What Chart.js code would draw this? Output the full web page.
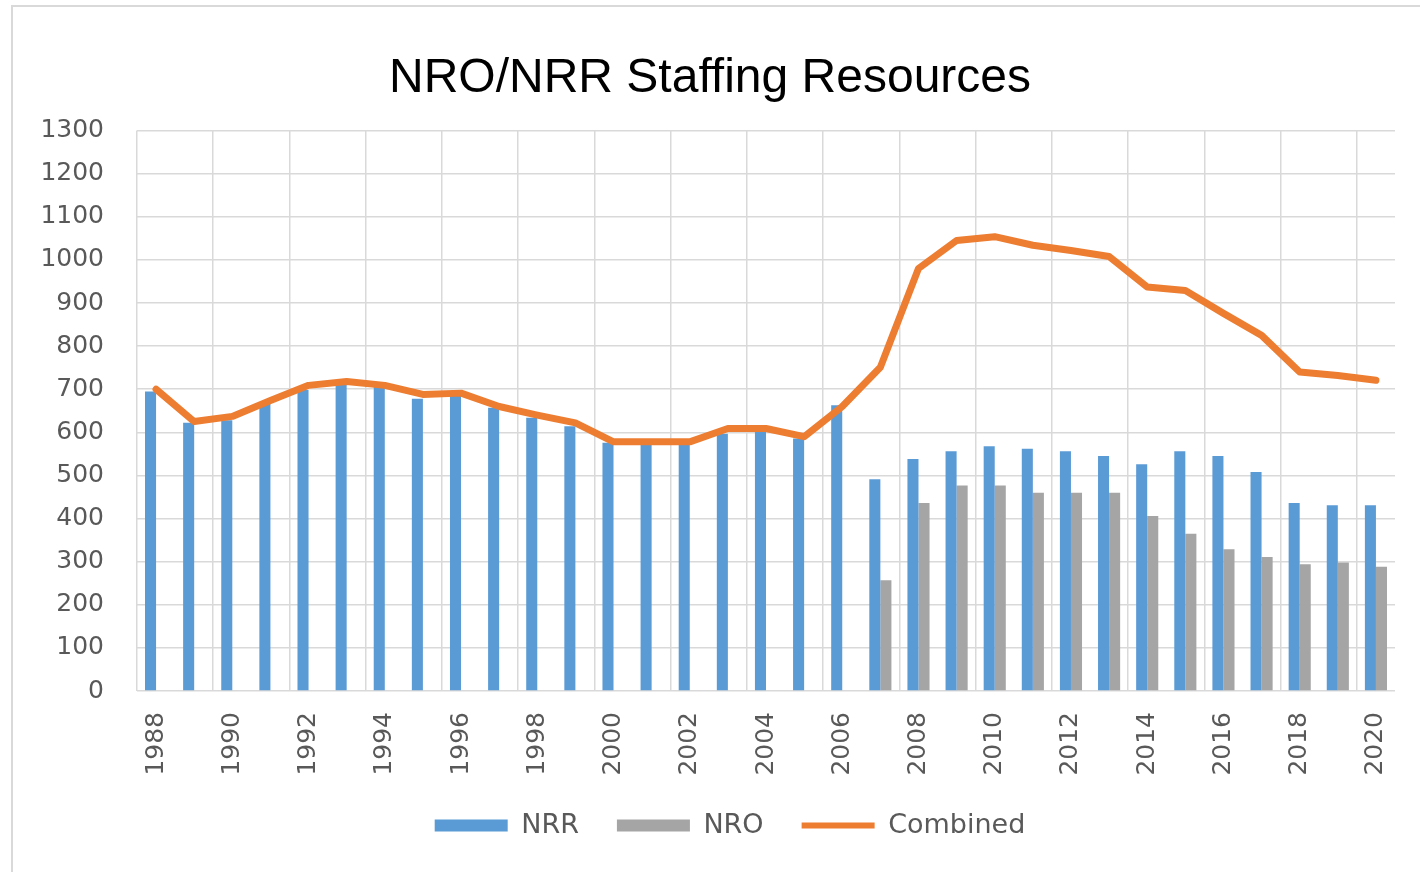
<!DOCTYPE html>
<html>
<head>
<meta charset="utf-8">
<title>NRO/NRR Staffing Resources</title>
<script src="https://cdn.jsdelivr.net/npm/chart.js"></script>
<style>
    body { margin: 0; background: #fff; }
    #wrap { position: relative; width: 1420px; height: 872px; overflow: hidden; }
    #frame {
        position: absolute; left: 11px; top: 5px; width: 1500px; height: 1000px;
        border-top: 2px solid #d9d9d9; border-left: 2px solid #d9d9d9;
    }
    #chart { position: absolute; left: 0; top: 0; }
</style>
</head>
<body>
<div id="wrap">
    <div id="frame"></div>
    <canvas id="chart" width="1420" height="872"></canvas>
</div>
<script>
// Staffing data
const years = ['1988', '1989', '1990', '1991', '1992', '1993', '1994', '1995', '1996', '1997', '1998',
    '1999', '2000', '2001', '2002', '2003', '2004', '2005', '2006', '2007', '2008', '2009', '2010',
    '2011', '2012', '2013', '2014', '2015', '2016', '2017', '2018', '2019', '2020'];

const nrr = [695, 622, 628, 670, 698, 712, 705, 678, 686, 657, 634, 614, 576, 574, 574, 597, 603,
    586, 663, 491, 538, 556, 568, 562, 556, 545, 526, 556, 545, 508, 436, 431, 431];

const nro = [null, null, null, null, null, null, null, null, null, null, null, null, null, null,
    null, null, null, null, null, 257, 436, 477, 477, 460, 460, 460, 406, 365, 329, 311, 294, 298, 288];

const combined = [700, 625, 637, 674, 709, 718, 709, 688, 691, 660, 640, 622, 578, 578, 578, 609,
    609, 590, 660, 751, 980, 1045, 1054, 1034, 1022, 1008, 937, 929, 876, 825, 740, 732, 721];

const yTicks = { min: 0, max: 1300, step: 100 };

const gridColor = '#d9d9d9';
const textColor = '#595959';

Chart.defaults.font.family = "'DejaVu Sans', sans-serif";

// move the legend row a bit to the right, as in the original
const legendShift = {
    id: 'legendShift',
    afterLayout(chart) {
        chart.legend.left += 20;
        chart.legend.right += 20;
    }
};

new Chart(document.getElementById('chart'), {
    type: 'bar',
    data: {
        labels: years,
        datasets: [{
            label: 'NRR',
            data: nrr,
            backgroundColor: '#5b9bd5',
            pointStyle: 'rect',
            order: 1
        }, {
            label: 'NRO',
            data: nro,
            backgroundColor: '#a5a5a5',
            pointStyle: 'rect',
            order: 1
        }, {
            type: 'line',
            label: 'Combined',
            data: combined,
            borderColor: '#ed7d31',
            backgroundColor: '#ed7d31',
            borderWidth: 7,
            pointRadius: 0,
            pointHoverRadius: 0,
            pointBorderWidth: 6,
            pointStyle: 'line',
            tension: 0,
            borderJoinStyle: 'round',
            borderCapStyle: 'round',
            order: 0
        }]
    },
    options: {
        responsive: false,
        animation: false,
        categoryPercentage: 0.58,
        barPercentage: 1,
        layout: { padding: { left: 25, right: 25, top: 0, bottom: 23 } },
        plugins: {
            title: {
                display: true,
                text: 'NRO/NRR Staffing Resources',
                color: '#000',
                font: { family: "'Liberation Sans', Arial, sans-serif", size: 48, weight: 'normal' },
                padding: { top: 50, bottom: 23 }
            },
            legend: {
                position: 'bottom',
                labels: {
                    usePointStyle: true,
                    pointStyleWidth: 73,
                    boxHeight: 12,
                    padding: 38,
                    color: textColor,
                    font: { size: 27 },
                    sort: (a, b) => a.datasetIndex - b.datasetIndex
                }
            },
            tooltip: { enabled: false }
        },
        scales: {
            x: {
                grid: {
                    color: ctx => (ctx.index % 2 === 0 ? gridColor : 'rgba(0,0,0,0)'),
                    lineWidth: 1.5,
                    drawTicks: false
                },
                border: { display: false },
                ticks: {
                    autoSkip: false,
                    minRotation: 90,
                    maxRotation: 90,
                    padding: 21,
                    color: textColor,
                    font: { size: 25 },
                    callback: function (value, index) {
                        return index % 2 === 0 ? this.getLabelForValue(value) : '';
                    }
                },
                afterFit: scale => {
                    scale.height = 83;
                    scale.paddingLeft = 0;
                    scale.paddingRight = 0;
                }
            },
            y: {
                min: yTicks.min,
                max: yTicks.max,
                grid: { color: gridColor, lineWidth: 1.5, drawTicks: false },
                border: { display: false },
                ticks: {
                    stepSize: yTicks.step,
                    padding: 33,
                    color: textColor,
                    font: { size: 25 },
                    callback: value => String(value)
                },
                afterFit: scale => { scale.width = 112; }
            }
        }
    },
    plugins: [legendShift]
});
</script>
</body>
</html>
